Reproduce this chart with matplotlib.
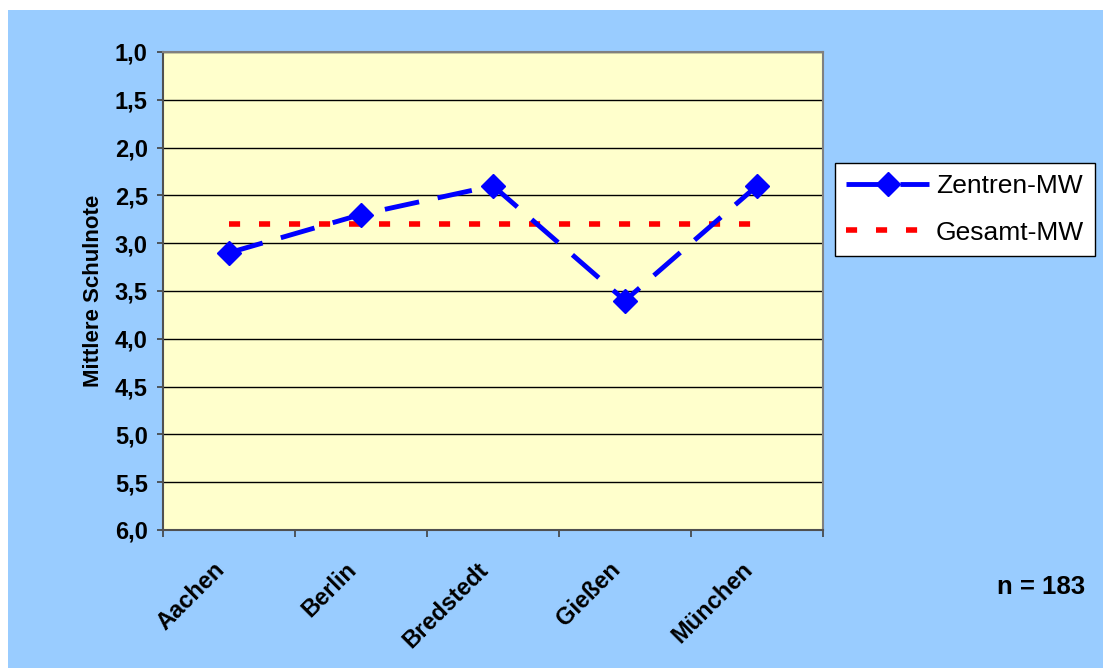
import matplotlib
matplotlib.use("Agg")
import matplotlib.pyplot as plt
from matplotlib.patches import Rectangle

categories = ["Aachen", "Berlin", "Bredstedt", "Gießen", "München"]
zentren_mw = [3.1, 2.7, 2.4, 3.6, 2.4]
gesamt_mw = [2.8, 2.8, 2.8, 2.8, 2.8]
y_ticks = [1.0, 1.5, 2.0, 2.5, 3.0, 3.5, 4.0, 4.5, 5.0, 5.5, 6.0]
y_tick_labels = ["1,0", "1,5", "2,0", "2,5", "3,0", "3,5", "4,0", "4,5", "5,0", "5,5", "6,0"]
n_text = "n = 183"

plt.rcParams['font.family'] = ['Liberation Sans', 'DejaVu Sans']

W, H = 1103, 668
fig = plt.figure(figsize=(W / 100, H / 100), dpi=100)
fig.patch.set_facecolor('white')
fig.patches.append(Rectangle((8 / W, 0), 1 - 8 / W, 1 - 10 / H, transform=fig.transFigure,
                             facecolor='#99CCFF', edgecolor='none', zorder=-10))

ax = fig.add_axes([163 / W, 1 - 530 / H, (823 - 163) / W, (530 - 52) / H])
ax.set_zorder(1)
ax.set_facecolor('#FFFFCC')

x = list(range(len(categories)))
ax.plot(x, zentren_mw, color='#0000FF', lw=3.5, marker='D', markersize=12,
        markerfacecolor='#0000FF', markeredgecolor='#0000FF',
        dashes=(7.2, 3.9), label='Zentren-MW', zorder=4)
ax.plot(x, gesamt_mw, color='#FF0000', lw=4, dashes=(2, 3.4), label='Gesamt-MW', zorder=3)

ax.set_xlim(-0.5, len(categories) - 0.5)
ax.set_ylim(6.0, 1.0)
ax.set_yticks(y_ticks)
ax.set_yticklabels(y_tick_labels, fontsize=17, fontweight='bold')
ax.yaxis.grid(True, color='black', lw=1)
ax.set_axisbelow(True)

ax.set_xticks([i - 0.5 for i in range(len(categories) + 1)], minor=False)
ax.set_xticklabels([])
ax.set_xticks(x, minor=True)
ax.set_xticklabels(categories, minor=True, rotation=45, ha='right', va='top',
                   rotation_mode='default', fontsize=17, fontweight='bold')
ax.tick_params(axis='x', which='minor', length=0, pad=20)
ax.tick_params(axis='x', which='major', length=5, width=1.2, color='#404040')
ax.tick_params(axis='y', length=4.5, width=1.2, color='#404040', pad=6.5)

for s in ax.spines.values():
    s.set_color('#808080')
    s.set_linewidth(1.5)
ax.spines['left'].set_color('#505050')
ax.spines['bottom'].set_color('#505050')

ax.set_ylabel('Mittlere Schulnote', fontsize=16, fontweight='bold', labelpad=8)

leg = ax.legend(loc='upper left', bbox_to_anchor=(835 / W, 1 - 163 / H),
                bbox_transform=fig.transFigure, borderaxespad=0, fontsize=19,
                frameon=True, fancybox=False, edgecolor='black', facecolor='white',
                framealpha=1, numpoints=1, handlelength=3.15, handletextpad=0.25,
                labelspacing=0.85, borderpad=0.42)
leg.get_frame().set_linewidth(1)

fig.text(1085 / W, 1 - 587 / H, n_text, ha='right', va='center', fontsize=18.5, fontweight='bold')

fig.savefig('out.png', dpi=100)
